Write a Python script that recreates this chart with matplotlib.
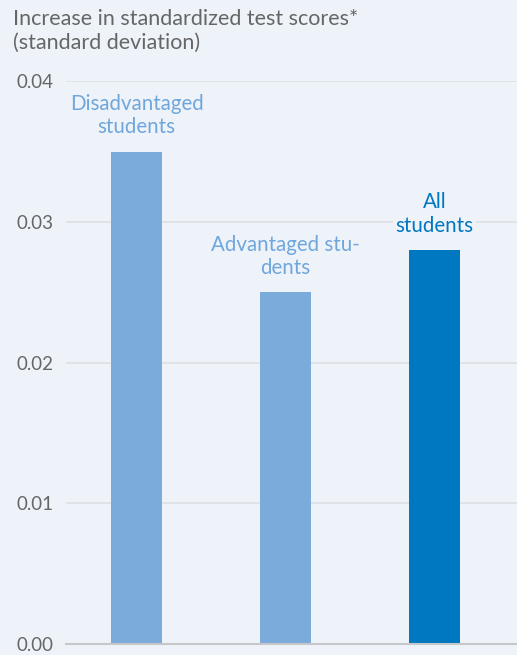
import numpy as np
import matplotlib.pyplot as plt

groups = ['Disadvantaged\nstudents', 'Advantaged stu-\ndents', 'All\nstudents']
values = [0.035, 0.025, 0.028]
bar_colors = ['#7aabdb', '#7aabdb', '#0078c1']
label_colors = ['#6fa6dc', '#6fa6dc', '#0077c0']
yticks = [0.00, 0.01, 0.02, 0.03, 0.04]

bg = '#eef3fa'
plt.rcParams['font.family'] = ['Lato', 'DejaVu Sans']

fig = plt.figure(figsize=(5.17, 6.55), dpi=100, facecolor=bg)
ax = fig.add_axes([0.128, 0.0168, 0.872, 0.859], facecolor=bg)

x = np.arange(len(values))
ax.bar(x, values, width=0.342, color=bar_colors, zorder=3)

for xi, v, lab, c in zip(x, values, groups, label_colors):
    ax.annotate(lab, (xi, v), xytext=(0, 10.5), textcoords='offset points',
                ha='center', va='bottom', fontsize=14.8, color=c, linespacing=1.2,
                bbox=dict(facecolor=bg, edgecolor='none', pad=1.5), zorder=4)

ax.set_xlim(-0.473, 2.554)
ax.set_ylim(0, 0.04)
ax.set_yticks(yticks)
ax.set_yticklabels(['%.2f' % t for t in yticks])
ax.set_xticks([])
ax.tick_params(axis='y', length=0, pad=9, labelsize=13.5, labelcolor='#666666')
ax.grid(axis='y', color='#dde0e5', linewidth=1.2, zorder=0)
for s in ['top', 'right', 'left']:
    ax.spines[s].set_visible(False)
ax.spines['bottom'].set_color('#c5c7cb')
ax.spines['bottom'].set_linewidth(1.5)
ax.spines['bottom'].set_zorder(5)

fig.text(0.025, 0.986, 'Increase in standardized test scores*\n(standard deviation)',
         ha='left', va='top', fontsize=15.5, color='#666666', linespacing=1.25)

fig.savefig('out.png', dpi=100, facecolor=bg)
